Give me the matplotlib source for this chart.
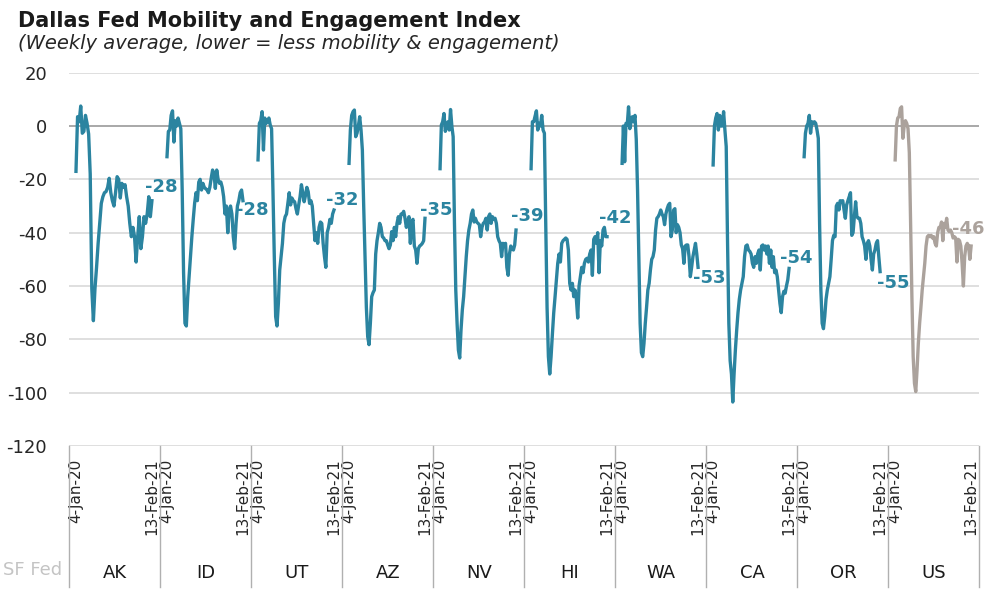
import numpy as np
import matplotlib
matplotlib.use("Agg")
import matplotlib.pyplot as plt

plt.rcParams["axes.unicode_minus"] = False

# weekly index values, 4-Jan-20 .. 13-Feb-21
states = ["AK", "ID", "UT", "AZ", "NV", "HI", "WA", "CA", "OR", "US"]

ak = [-17, 3.5, 1.6, 7.5, -2.7, -2, 4, 1, -3, -18, -61, -73, -61, -53, -44, -36.5,
      -29, -26.5, -25, -24.6, -23, -19.6, -25, -28, -30, -25, -19, -20, -27, -21.5,
      -23, -22, -26.5, -30, -36.5, -41.5, -38, -41.5, -51, -41.5, -34, -46, -41.5,
      -34, -36.5, -33, -26.5, -34, -28]
id_ = [-11.5, -2, -1.5, 4, 5.7, -6, 2, 0, 3, 1, -1, -24, -55, -74, -75, -64, -56.5,
       -49, -41.5, -35, -29, -25, -28, -21, -20, -24, -21.5, -23, -23.5, -24, -25,
       -23, -19.6, -16.5, -17.8, -23.4, -16.5, -20, -21.5, -21, -23, -26.5, -33, -30,
       -40, -31.5, -30, -33, -41.5, -46, -36.5, -30, -28, -25, -24, -28]
ut = [-12.7, 1, 2, 5.4, -9, 3, 1, 1.6, 3, 0.4, -1, -24, -49, -71.5, -75, -66.5, -54,
      -49, -44, -36.5, -34, -33, -29, -25, -29.6, -27, -28, -28.4, -31, -33, -29.6,
      -26.5, -22, -25, -28.4, -26, -23, -24.6, -29, -28, -30, -36.5, -43, -40, -44,
      -38, -36, -36.5, -44, -49, -53, -40, -38, -35, -36.5, -33, -31.5]
az = [-14, -1.5, 4, 5.4, 6, -4, -2.7, 0, 3.5, -1.5, -9, -30, -49, -68, -79, -82, -74,
      -64, -62.5, -61.5, -48, -43, -40, -36.5, -38, -41.5, -42, -43, -43, -44.6, -46,
      -44.6, -39.6, -43, -38, -41.5, -36.5, -34, -36.5, -33, -33, -32, -34.6, -38, -36,
      -34, -44, -36, -35, -45, -46.5, -51.5, -46, -45, -44.6, -44, -43, -34.6]
nv = [-16, 0.4, 1.6, 4.7, -2, -0.2, 1.6, -1.5, 6.2, 0, -4, -36.5, -61.5, -74, -84, -87,
      -76.5, -69, -64, -56.5, -49, -43, -39, -36.5, -33, -31.5, -36, -34.6, -36, -36.5,
      -37, -41.5, -38, -36.5, -36, -34.6, -39, -34, -33, -36.5, -34, -35, -34.6, -36.5,
      -41.5, -43, -44, -49, -44, -44.6, -44, -53, -56, -48, -45, -46, -46.5, -44.6, -39]
hi = [-16, 1.6, 1.6, 3.7, 5.7, -1.5, 1, 0, 4, -1.5, -2.7, -36.5, -68, -86.5, -93, -86.5,
      -78, -70, -64, -57.7, -51.5, -48, -51, -44, -43, -42.5, -42, -42.5, -46.5, -59,
      -61.5, -59, -64, -61.5, -65, -72, -60, -56.5, -53, -55, -51.5, -50, -49.6, -51,
      -48, -46.5, -56, -42.5, -41.5, -44, -40, -55, -43, -45, -39, -38, -41.5, -41.5]
wa = [-14, 0, -13.4, 1, 0.4, 7.2, -1, 1.6, 3.5, 1.6, 4, -5, -24, -49, -74, -85, -86.5,
      -81.5, -74, -68, -61.5, -59, -54, -50, -49, -46.5, -39, -34.6, -34, -33, -31.5,
      -33, -34, -37, -33, -31, -29.6, -29, -41.5, -39, -31.5, -31, -40, -37, -38, -40,
      -44.6, -46, -51.5, -45, -44.6, -44.6, -49, -56.5, -53, -49, -46.5, -44, -48, -53]
ca = [-14.6, 0, 3, 4.7, -1.5, 4, 0, 0, 5.4, -1.5, -7.7, -43, -74, -88, -93, -103.5, -93,
      -84, -76.5, -70, -65, -61.5, -59, -56.5, -49, -45, -44.6, -46.5, -47, -48, -51.5,
      -53, -49, -51.5, -48, -46.5, -54, -45, -44.6, -46.5, -45, -48, -45, -51.5, -46.5,
      -53, -49, -55, -54, -56.5, -61.5, -66.5, -70, -64, -62, -62.7, -60, -57.7, -53.4]
or_ = [-11.5, -2.7, 0, 1, 4, -2.7, 1.6, 1, 1.6, 1, -1.5, -4.6, -36.5, -61.5, -74, -76,
       -71.5, -65, -61.5, -59, -56.5, -50, -43, -41, -41.5, -30, -29, -31.5, -28, -28.4,
       -28, -31.5, -34.6, -29.6, -28, -26.5, -25, -41, -40, -34, -28.4, -34, -34.6,
       -34.6, -36.5, -41.5, -43, -45, -50, -44, -43, -45, -50, -54, -48, -46.5, -44,
       -43, -49, -54.6]
us = [-12.7, 0, 3, 3.5, 6.6, 7.2, -4.6, 0, 2, 1, -1, -10, -36.5, -64, -86.5, -96.5,
      -99.6, -91.5, -81.5, -74, -68, -61.5, -56.5, -51.5, -45, -41.5, -41, -41.5, -41,
      -42, -41.5, -44, -45, -40, -38, -38, -36, -43, -36.5, -38, -34.6, -39, -39.6, -39,
      -40, -42, -41.5, -42, -51, -42.5, -43, -45, -51.5, -60, -49, -45, -44, -45, -50, -45]

series = [ak, id_, ut, az, nv, hi, wa, ca, or_, us]
latest = [-28, -28, -32, -35, -39, -42, -53, -54, -55, -46]
first_date = "4-Jan-20"
last_date = "13-Feb-21"

# where the end-value labels sit (data coords)
label_pos = [(70.0, -22.9), (139.5, -31.5), (208.2, -27.7), (280.0, -31.5),
             (349.5, -33.7), (416.7, -34.5), (488.4, -57.0), (554.9, -49.5),
             (628.9, -58.9), (699.0, -38.6)]

teal = "#2b84a0"
grey = "#aba29c"
W = 69.5      # one state block
PAD = 5.1
SPAN = 58     # weeks from 4-Jan-20 to 13-Feb-21

fig = plt.figure(figsize=(9.87, 5.89), dpi=100)
ax = fig.add_axes([69.3 / 987, 1 - 446 / 589, 910.2 / 987, (446 - 72.7) / 589])

yticks = list(range(-120, 21, 20))
for y in yticks:
    ax.axhline(y, color="#999999" if y == 0 else "#d9d9d9", lw=1.2, zorder=0)

ticks, ticklabels = [], []
for k, vals in enumerate(series):
    x = k * W + PAD + np.linspace(0, SPAN, len(vals))
    col = grey if states[k] == "US" else teal
    ax.plot(x, vals, color=col, lw=2.4, zorder=3)
    ticks += [k * W + PAD, k * W + PAD + SPAN]
    ticklabels += [first_date, last_date]
    lx, ly = label_pos[k]
    ax.text(lx, ly, str(latest[k]), color=col, fontsize=13, fontweight="bold",
            ha="right" if states[k] == "US" else "center", va="center")
    ax.text(k * W + W / 2, -0.34, states[k], transform=ax.get_xaxis_transform(),
            ha="center", va="center", fontsize=13, color="#1a1a1a")

for k in range(len(series) + 1):
    ax.plot([k * W, k * W], [0, -0.378], transform=ax.get_xaxis_transform(),
            color="#b0b0b0", lw=1, clip_on=False)

ax.set_xlim(0, len(series) * W)
ax.set_ylim(-120, 20)
ax.set_yticks(yticks)
ax.set_xticks(ticks, ticklabels, rotation=90, fontsize=11)
ax.tick_params(axis="x", length=0, pad=9, colors="#262626")
ax.tick_params(axis="y", length=0, pad=16, labelsize=13, colors="#262626")
for s in ax.spines.values():
    s.set_visible(False)

fig.text(18 / 987, 1 - 27 / 589, "Dallas Fed Mobility and Engagement Index",
         fontsize=15, fontweight="bold", va="baseline", color="#1a1a1a")
fig.text(18 / 987, 1 - 49 / 589, "(Weekly average, lower = less mobility & engagement)",
         fontsize=14, style="italic", va="baseline", color="#262626")
fig.text(62 / 987, 1 - 570 / 589, "SF Fed", ha="right", va="center",
         fontsize=13, color="#c4c4c4")

fig.savefig("out.png", dpi=100)
